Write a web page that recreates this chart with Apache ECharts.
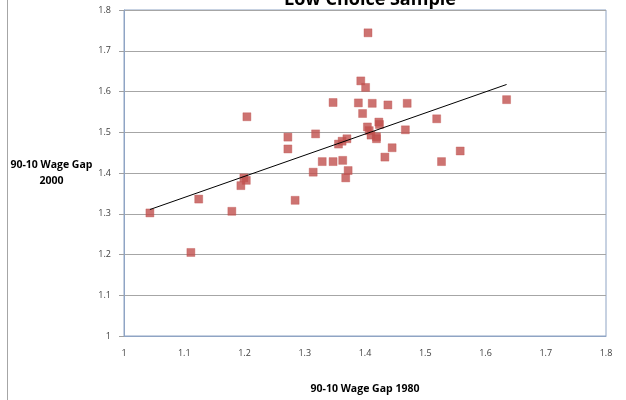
<!DOCTYPE html>
<html>
<head>
<meta charset="utf-8">
<script src="https://cdn.jsdelivr.net/npm/echarts@6/dist/echarts.min.js"></script>
<style>
  html, body { margin: 0; padding: 0; background: #fff; }
  #chart { width: 626px; height: 400px; }
  #frame { position: absolute; left: 7px; top: 0; width: 1px; height: 400px; background: #a6a6a6; }
</style>
</head>
<body>
<div id="chart"></div>
<div id="frame"></div>
<script>
// 90-10 wage gap by area: 1980 (x) vs 2000 (y)
const gap1980 = [
  1.043, 1.111, 1.124, 1.179, 1.194, 1.199, 1.203, 1.204, 1.272, 1.272, 1.284,
  1.314, 1.318, 1.329, 1.347, 1.347, 1.356, 1.362, 1.370, 1.363, 1.372, 1.368,
  1.389, 1.393, 1.401, 1.405, 1.396, 1.412, 1.404, 1.407, 1.410, 1.419, 1.419,
  1.423, 1.424, 1.433, 1.438, 1.445, 1.467, 1.470, 1.519, 1.527, 1.558, 1.635
];
const gap2000 = [
  1.302, 1.205, 1.336, 1.306, 1.369, 1.388, 1.382, 1.538, 1.488, 1.459, 1.333,
  1.402, 1.496, 1.428, 1.428, 1.573, 1.471, 1.478, 1.484, 1.431, 1.406, 1.388,
  1.572, 1.626, 1.610, 1.744, 1.546, 1.571, 1.513, 1.504, 1.493, 1.489, 1.484,
  1.525, 1.519, 1.439, 1.567, 1.462, 1.506, 1.571, 1.533, 1.428, 1.454, 1.580
];
const axisTicks = [1, 1.1, 1.2, 1.3, 1.4, 1.5, 1.6, 1.7, 1.8];

const points = gap1980.map((x, i) => [x, gap2000[i]]);

// Least-squares linear trend over the data range
const n = gap1980.length;
const mx = gap1980.reduce((a, b) => a + b, 0) / n;
const my = gap2000.reduce((a, b) => a + b, 0) / n;
let sxy = 0, sxx = 0;
for (let i = 0; i < n; i++) {
  sxy += (gap1980[i] - mx) * (gap2000[i] - my);
  sxx += (gap1980[i] - mx) * (gap1980[i] - mx);
}
const slope = sxy / sxx;
const icpt = my - slope * mx;
const xLo = Math.min(...gap1980), xHi = Math.max(...gap1980);
const trend = [[xLo, icpt + slope * xLo], [xHi, icpt + slope * xHi]];

const fontFam = '"Open Sans", "Liberation Sans", sans-serif';
const fmt = v => axisTicks.includes(+v.toFixed(1)) ? String(+v.toFixed(1)) : '';

const chart = echarts.init(document.getElementById('chart'), null, { renderer: 'canvas' });
chart.setOption({
  animation: false,
  backgroundColor: '#ffffff',
  title: {
    text: 'Low Choice Sample',
    left: 365, top: -14, textAlign: 'center',
    textStyle: { fontFamily: fontFam, fontWeight: 'bold', fontSize: 18, color: '#000' }
  },
  grid: {
    left: 124, right: 20, top: 10, bottom: 63,
    show: true, borderColor: '#8fa4c4', borderWidth: 1, backgroundColor: 'transparent'
  },
  xAxis: {
    type: 'value', min: 1, max: 1.8, interval: 0.1,
    axisLine: { show: true, onZero: false, lineStyle: { color: '#8fa4c4' } },
    axisTick: { show: false },
    splitLine: { show: false },
    axisLabel: { formatter: fmt, margin: 13, fontFamily: fontFam, fontSize: 9, color: '#404040' },
    name: '90-10 Wage Gap 1980', nameLocation: 'middle', nameGap: 48,
    nameTextStyle: { fontFamily: fontFam, fontWeight: 'bold', fontSize: 10.5, color: '#000' }
  },
  yAxis: {
    type: 'value', min: 1, max: 1.8, interval: 0.1,
    axisLine: { show: true, lineStyle: { color: '#8fa4c4' } },
    axisTick: { show: true, length: 5, lineStyle: { color: '#a0a0a0' } },
    splitLine: { show: true, lineStyle: { color: '#a6a6a6', width: 1 } },
    axisLabel: { formatter: fmt, margin: 13, fontFamily: fontFam, fontSize: 9, color: '#404040' },
    name: '90-10 Wage Gap\n2000', nameLocation: 'middle', nameGap: 63, nameRotate: 0,
    nameTextStyle: {
      fontFamily: fontFam, fontWeight: 'bold', fontSize: 10.5, color: '#000',
      align: 'center', lineHeight: 16, padding: [5, 0, 0, 0]
    }
  },
  series: [
    {
      type: 'scatter', data: points, symbol: 'rect', symbolSize: 8,
      itemStyle: { color: '#c0504d', borderColor: 'rgba(192,80,77,0.45)', borderWidth: 1 },
      z: 3
    },
    {
      type: 'line', data: trend, symbol: 'none', silent: true,
      lineStyle: { color: '#000', width: 1 }, z: 4
    }
  ]
});
</script>
</body>
</html>
